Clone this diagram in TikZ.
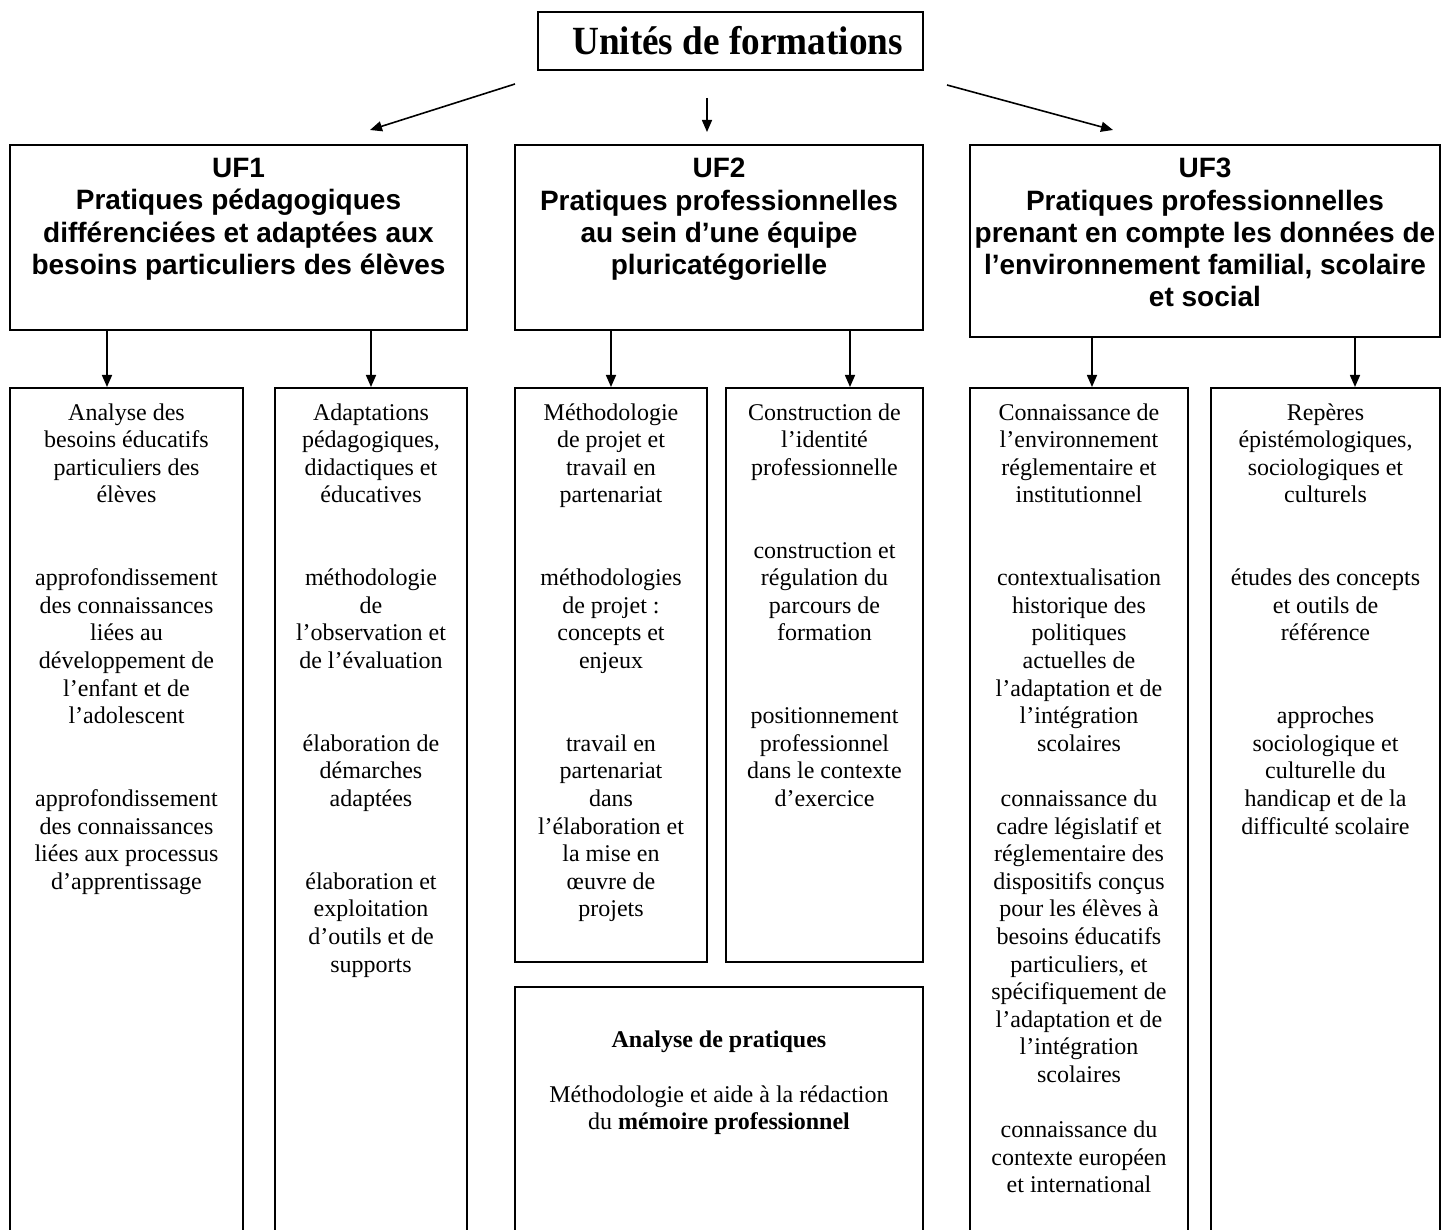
\documentclass[tikz,border=0pt]{standalone}
\usepackage{fontspec}
\setmainfont{Liberation Serif}
\setsansfont{Liberation Sans}
\usetikzlibrary{fit,arrows.meta}

\begin{document}
\begin{tikzpicture}[x=0.5pt, y=-0.5pt,
	box/.style={draw, line width=1pt, inner sep=0pt},
	arr/.style={-{Triangle[length=6pt,width=5pt]}, line width=0.8pt},
	uftxt/.style={anchor=north, inner sep=0pt, align=center, font=\sffamily\bfseries\fontsize{14}{16.1}\selectfont},
	coltxt/.style={anchor=north, inner sep=0pt, align=center, font=\fontsize{12}{13.8}\selectfont}]

	\useasboundingbox (0,0) rectangle (1442,1230);
	\clip (0,0) rectangle (1442,1230);

	% titre
	\node[box, minimum width=192.5pt, minimum height=29pt] (title) at (730.5,41)
		{\hspace*{7pt}\fontsize{20}{24}\selectfont\bfseries\scalebox{0.93}[1]{Unités de formations}};

	% les trois UF
	\node[box, fit={(10,145) (467,330)}] (uf1) {};
	\node[box, fit={(515,145) (923,330)}] (uf2) {};
	\node[box, fit={(970,145) (1440,337)}] (uf3) {};

	\node[uftxt] (uf1t) at ([shift={(0,14)}]uf1.north) {UF1\\Pratiques pédagogiques\\différenciées et adaptées aux\\besoins particuliers des élèves};
	\node[uftxt] (uf2t) at ([shift={(0,14)}]uf2.north) {UF2\\Pratiques professionnelles\\au sein d’une équipe\\pluricatégorielle};
	\node[uftxt] (uf3t) at ([shift={(0,14)}]uf3.north) {UF3\\Pratiques professionnelles\\prenant en compte les données de\\l’environnement familial, scolaire\\et social};

	\coordinate (t1) at (515,84);
	\coordinate (a1) at (370,130);
	\coordinate (t2) at (707,98);
	\coordinate (a2) at (707,132);
	\coordinate (t3) at (947,85);
	\coordinate (a3) at (1113,130);
	\draw[arr] (t1) -- (a1);
	\draw[arr] (t2) -- (a2);
	\draw[arr] (t3) -- (a3);

	% colonnes
	\node[box, fit={(10,388) (243,1260)}] (col1) {};
	\node[box, fit={(275,388) (467,1260)}] (col2) {};
	\node[box, fit={(515,388) (707,962)}] (col3) {};
	\node[box, fit={(726,388) (923,962)}] (col4) {};
	\node[box, fit={(970,388) (1188,1260)}] (col5) {};
	\node[box, fit={(1211,388) (1440,1260)}] (col6) {};
	\node[box, fit={(515,987) (923,1260)}] (ana) {};

	\draw[arr] ([shift={(-19.5,0)}]col1.north |- uf1.south) -- ([shift={(-19.5,0)}]col1.north);
	\draw[arr] (col2.north |- uf1.south) -- (col2.north);
	\draw[arr] (col3.north |- uf2.south) -- (col3.north);
	\draw[arr] ([shift={(25.5,0)}]col4.north |- uf2.south) -- ([shift={(25.5,0)}]col4.north);
	\draw[arr] ([shift={(13,0)}]col5.north |- uf3.south) -- ([shift={(13,0)}]col5.north);
	\draw[arr] ([shift={(29.5,0)}]col6.north |- uf3.south) -- ([shift={(29.5,0)}]col6.north);

	\node[coltxt] (col1t) at ([shift={(0,16)}]col1.north) {Analyse des\\besoins éducatifs\\particuliers des\\élèves\\[27.6pt]
		approfondissement\\des connaissances\\liées au\\développement de\\l’enfant et de\\l’adolescent\\[27.6pt]
		approfondissement\\des connaissances\\liées aux processus\\d’apprentissage};
	\node[coltxt] (col2t) at ([shift={(0,16)}]col2.north) {Adaptations\\pédagogiques,\\didactiques et\\éducatives\\[27.6pt]
		méthodologie\\de\\l’observation et\\de l’évaluation\\[27.6pt]
		élaboration de\\démarches\\adaptées\\[27.6pt]
		élaboration et\\exploitation\\d’outils et de\\supports};
	\node[coltxt] (col3t) at ([shift={(0,16)}]col3.north) {Méthodologie\\de projet et\\travail en\\partenariat\\[27.6pt]
		méthodologies\\de projet :\\concepts et\\enjeux\\[27.6pt]
		travail en\\partenariat\\dans\\l’élaboration et\\la mise en\\œuvre de\\projets};
	\node[coltxt] (col4t) at ([shift={(0,16)}]col4.north) {Construction de\\l’identité\\professionnelle\\[27.6pt]
		construction et\\régulation du\\parcours de\\formation\\[27.6pt]
		positionnement\\professionnel\\dans le contexte\\d’exercice};
	\node[coltxt] (col5t) at ([shift={(0,16)}]col5.north) {Connaissance de\\l’environnement\\réglementaire et\\institutionnel\\[27.6pt]
		contextualisation\\historique des\\politiques\\actuelles de\\l’adaptation et de\\l’intégration\\scolaires\\[13.8pt]
		connaissance du\\cadre législatif et\\réglementaire des\\dispositifs conçus\\pour les élèves à\\besoins éducatifs\\particuliers, et\\spécifiquement de\\l’adaptation et de\\l’intégration\\scolaires\\[13.8pt]
		connaissance du\\contexte européen\\et international};
	\node[coltxt] (col6t) at ([shift={(0,16)}]col6.north) {Repères\\épistémologiques,\\sociologiques et\\culturels\\[27.6pt]
		études des concepts\\et outils de\\référence\\[27.6pt]
		approches\\sociologique et\\culturelle du\\handicap et de la\\difficulté scolaire};

	\node[coltxt] (anat) at ([shift={(0,44)}]ana.north) {\textbf{Analyse de pratiques}\\[13.8pt]
		Méthodologie et aide à la rédaction\\du \textbf{mémoire professionnel}};

\end{tikzpicture}
\end{document}
